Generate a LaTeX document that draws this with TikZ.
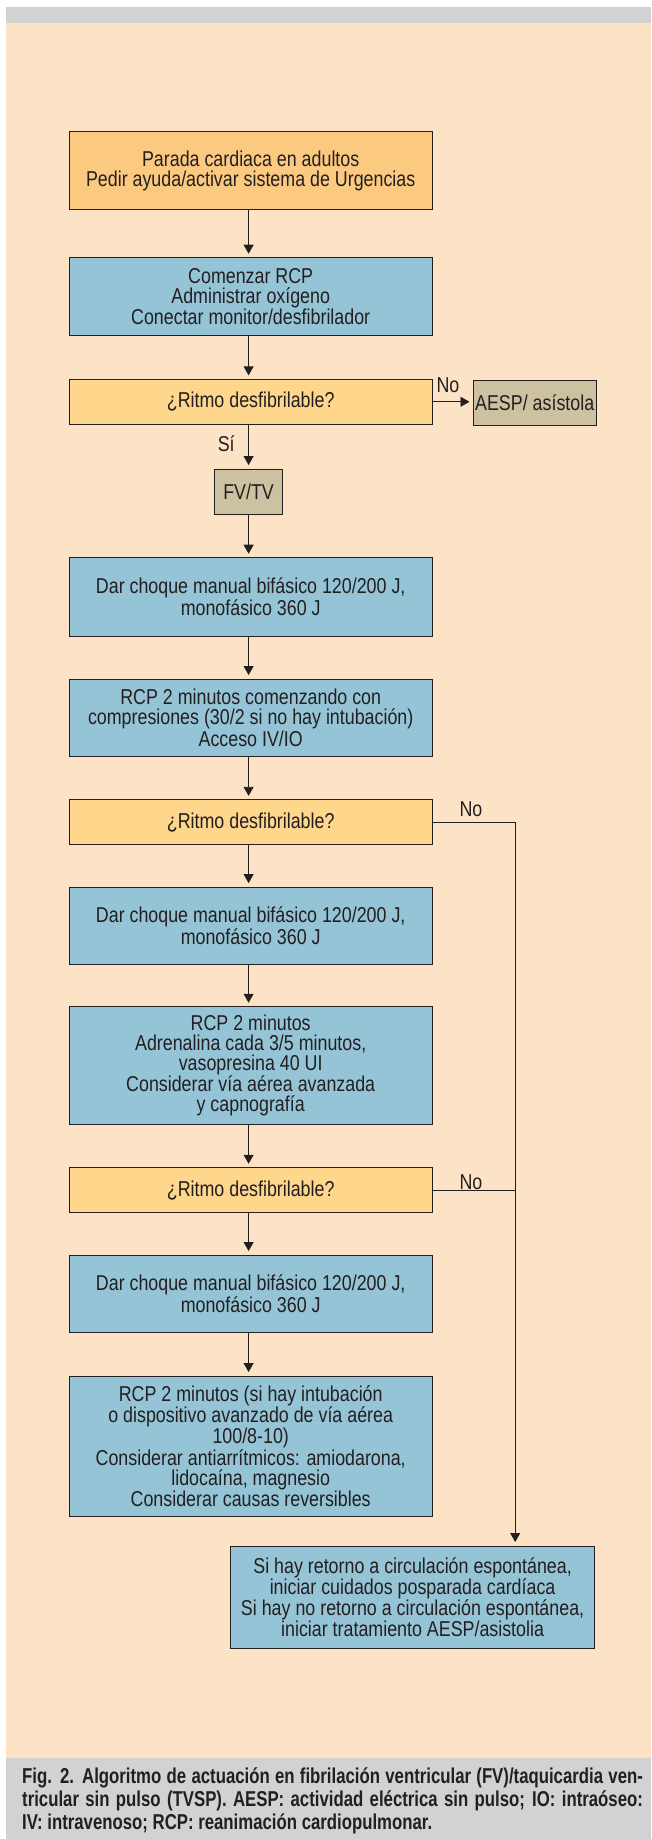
\documentclass[tikz,border=0pt]{standalone}
\usepackage{fontspec}
\setmainfont{Liberation Sans}[FakeStretch=0.83]
\newfontfamily\capfont{Liberation Sans}[FakeStretch=0.78]
\usetikzlibrary{arrows.meta}
\definecolor{peach}{RGB}{253,227,198}
\definecolor{band}{RGB}{209,210,212}
\definecolor{orangebox}{RGB}{252,201,128}
\definecolor{yellowbox}{RGB}{254,214,140}
\definecolor{bluebox}{RGB}{149,196,215}
\definecolor{tanbox}{RGB}{204,193,161}
\definecolor{ink}{RGB}{35,31,32}
\begin{document}
\begin{tikzpicture}[x=1pt,y=-1pt,
  every node/.style={font=\fontsize{21.5}{20}\selectfont, text=ink},
  box/.style={draw=ink, line width=0.9pt, inner sep=0pt, align=center},
  wide/.style={box, minimum width=363.5pt},
  bbox/.style={wide, fill=bluebox},
  obox/.style={wide, fill=orangebox},
  ybox/.style={wide, fill=yellowbox, minimum height=45pt},
  tbox/.style={box, fill=tanbox, minimum height=45pt},
  conn/.style={draw=ink, line width=0.8pt},
  arr/.style={conn, -{Triangle[length=9pt,width=10pt]}, shorten >=3.5pt},
  lbl/.style={inner sep=0pt},
  capline/.style={anchor=base west, inner sep=0pt, font=\capfont\bfseries\fontsize{21.5}{23}\selectfont}]
\useasboundingbox (0,0) rectangle (651,1839);
\fill[white] (0,0) rectangle (651,1839);
\fill[band] (6,6.7) rectangle (651,22.7);
\fill[peach] (6,22.7) rectangle (651,1757.7);
\fill[band] (6,1757.7) rectangle (651,1839);

\node[obox, minimum height=77.6pt] (b1) at (250.7,170.5) {Parada cardiaca en adultos\\Pedir ayuda/activar sistema de Urgencias};
\node[bbox, minimum height=77.3pt] (b2) at (250.7,296.3) {Comenzar RCP\\Administrar oxígeno\\Conectar monitor/desfibrilador};
\node[ybox] (d1) at (250.7,401.8) {¿Ritmo desfibrilable?};
\node[tbox, minimum width=122.5pt] (aesp) at (534.7,402.5) {AESP/ asístola};
\node[tbox, minimum width=68.5pt] (fv) at (248.6,491.5) {FV/TV};
\node[bbox, minimum height=78.3pt] (b3) at (250.7,596.8) {Dar choque manual bifásico 120/200 J,\\monofásico 360 J};
\node[bbox, minimum height=77.7pt] (b4) at (250.7,717.8) {RCP 2 minutos comenzando con\\compresiones (30/2 si no hay intubación)\\Acceso IV/IO};
\node[ybox] (d2) at (250.7,822.3) {¿Ritmo desfibrilable?};
\node[bbox, minimum height=77.3pt] (b5) at (250.7,925.7) {Dar choque manual bifásico 120/200 J,\\monofásico 360 J};
\node[bbox, minimum height=118pt] (b6) at (250.7,1065.7) {RCP 2 minutos\\Adrenalina cada 3/5 minutos,\\vasopresina 40 UI\\Considerar vía aérea avanzada\\y capnografía};
\node[ybox] (d3) at (250.7,1190.2) {¿Ritmo desfibrilable?};
\node[bbox, minimum height=77.7pt] (b7) at (250.7,1293.8) {Dar choque manual bifásico 120/200 J,\\monofásico 360 J};
\node[bbox, minimum height=140pt] (b8) at (250.7,1446) {RCP 2 minutos (si hay intubación\\o dispositivo avanzado de vía aérea\\100/8-10)\\Considerar antiarrítmicos: amiodarona,\\lidocaína, magnesio\\Considerar causas reversibles};
\node[box, fill=bluebox, minimum width=363.6pt, minimum height=102.7pt] (fin) at (412.6,1597.3) {Si hay retorno a circulación espontánea,\\iniciar cuidados posparada cardíaca\\Si hay no retorno a circulación espontánea,\\iniciar tratamiento AESP/asistolia};

\draw[arr] (b1.south -| fv) -- (b2.north -| fv);
\draw[arr] (b2.south -| fv) -- (d1.north -| fv);
\draw[arr] (d1.east) -- (d1.east -| aesp.west);
\draw[arr] (d1.south -| fv) -- (fv.north);
\draw[arr] (fv.south) -- (b3.north -| fv);
\draw[arr] (b3.south -| fv) -- (b4.north -| fv);
\draw[arr] (b4.south -| fv) -- (d2.north -| fv);
\draw[arr] (d2.south -| fv) -- (b5.north -| fv);
\draw[arr] (b5.south -| fv) -- (b6.north -| fv);
\draw[arr] (b6.south -| fv) -- (d3.north -| fv);
\draw[arr] (d3.south -| fv) -- (b7.north -| fv);
\draw[arr] (b7.south -| fv) -- (b8.north -| fv);
\coordinate (rl) at (515.2,822.3);
\draw[conn] (d2.east) -- (rl);
\draw[arr] (rl) -- (rl |- fin.north);
\draw[conn] (d3.east) -- (d3.east -| rl);

\node[lbl] (no1) at (448,385) {No};
\node[lbl] (si) at (226.2,443.3) {Sí};
\node[lbl] (no2) at (471,809.3) {No};
\node[lbl] (no3) at (471,1182.3) {No};

\node[capline] (cap1) at (22,1783) {\makebox[620.7pt][s]{Fig. 2. Algoritmo de actuación en fibrilación ventricular (FV)/taquicardia ven-}};
\node[capline] (cap2) at (22,1806) {\makebox[620.7pt][s]{tricular sin pulso (TVSP). AESP: actividad eléctrica sin pulso; IO: intraóseo:}};
\node[capline] (cap3) at (22,1829) {IV: intravenoso; RCP: reanimación cardiopulmonar.};
\end{tikzpicture}
\end{document}
